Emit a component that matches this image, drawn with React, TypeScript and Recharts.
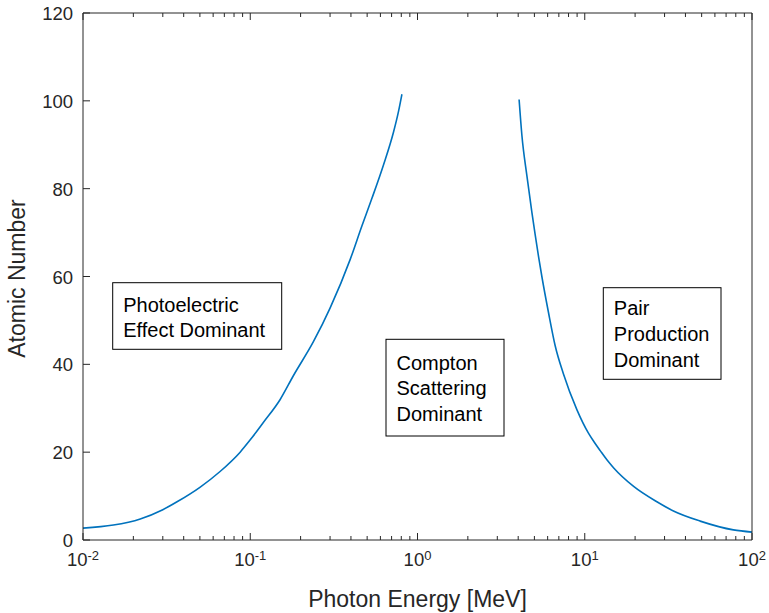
import React from 'react';
import { LineChart, Line, XAxis, YAxis } from 'recharts';

// photoelectric / Compton boundary (energy in MeV, atomic number)
const photoEnergy = [0.01, 0.0152, 0.022, 0.03, 0.0365, 0.05, 0.066, 0.087, 0.1, 0.12, 0.151, 0.181, 0.239, 0.3, 0.396, 0.465, 0.534, 0.626, 0.719, 0.77, 0.807];
const photoZ = [2.7, 3.4, 4.8, 6.9, 8.7, 12.0, 15.6, 20.0, 22.8, 26.8, 32, 37.4, 45.2, 52.8, 63.9, 71.5, 77.8, 85.4, 92.9, 97.6, 101.5];

// Compton / pair production boundary
const pairEnergy = [4.05, 4.21, 4.51, 4.83, 5.05, 5.3, 5.54, 6.07, 6.65, 7.46, 8.97, 10.5, 11.3, 12.4, 13.6, 14.9, 19.6, 27, 33.9, 49, 77.4, 100];
const pairZ = [100.3, 92.1, 82.9, 74.6, 69.6, 64.4, 60.0, 51.8, 44.3, 37.8, 29.7, 24.4, 22.5, 20.3, 18.2, 16.4, 12.2, 8.7, 6.6, 4.3, 2.3, 1.8];

const majorX = [0.01, 0.1, 1, 10, 100];
const minorSteps = [2, 3, 4, 5, 6, 7, 8, 9];
const yTicks = [0, 20, 40, 60, 80, 100, 120];

const xTicks = [
  ...majorX,
  ...majorX.slice(0, -1).flatMap((d) => minorSteps.map((s) => d * s)),
].sort((a, b) => a - b);

const photoData = photoEnergy.map((e, i) => ({ e, z: photoZ[i] }));
const pairData = pairEnergy.map((e, i) => ({ e, z: pairZ[i] }));

const AXIS = '#262626';
const BLUE = '#0072BD';
const FONT = '"Liberation Sans", Arial, Helvetica, sans-serif';

const isMajor = (v: number) => majorX.some((m) => Math.abs(v - m) / m < 1e-9);

const BottomTick = (props: any) => {
  const { x, y, payload } = props;
  const v = payload.value;
  const major = isMajor(v);
  const exp = Math.round(Math.log10(v));
  return (
    <g>
      <line x1={x} x2={x} y1={y} y2={y - (major ? 7 : 4)} stroke={AXIS} />
      {major && (
        <text x={x} y={y + 26} textAnchor="middle" fontSize={18.5} fill={AXIS} fontFamily={FONT}>
          10<tspan dy={-6} fontSize={13}>{exp}</tspan>
        </text>
      )}
    </g>
  );
};

const TopTick = (props: any) => {
  const { x, y, payload } = props;
  const major = isMajor(payload.value);
  return <line x1={x} x2={x} y1={y} y2={y + (major ? 7 : 4)} stroke={AXIS} />;
};

const LeftTick = (props: any) => {
  const { x, y, payload } = props;
  return (
    <g>
      <line x1={x} x2={x + 7} y1={y} y2={y} stroke={AXIS} />
      <text x={x - 10} y={y + 7} textAnchor="end" fontSize={18.5} fill={AXIS} fontFamily={FONT}>
        {payload.value}
      </text>
    </g>
  );
};

const RightTick = (props: any) => {
  const { x, y } = props;
  return <line x1={x} x2={x - 7} y1={y} y2={y} stroke={AXIS} />;
};

const Box = ({ x, y, w, h, lines, baselines }: any) => (
  <g>
    <rect x={x} y={y} width={w} height={h} fill="#fff" stroke="#000" strokeWidth={1} />
    {lines.map((t: string, i: number) => (
      <text key={t} x={x + 10.5} y={baselines[i]} fontSize={20} fill="#000" fontFamily={FONT}>
        {t}
      </text>
    ))}
  </g>
);

export default function App() {
  return (
    <div style={{ position: 'absolute', left: 0, top: 0, width: 769, height: 613, background: '#fff' }}>
      <LineChart width={769} height={613} margin={{ top: 0, right: 0, bottom: 0, left: 0 }}>
        <XAxis
          xAxisId="b"
          dataKey="e"
          type="number"
          scale="log"
          domain={[0.01, 100]}
          allowDataOverflow
          ticks={xTicks}
          interval={0}
          height={73}
          tickSize={0}
          tickMargin={0}
          tickLine={false}
          axisLine={{ stroke: AXIS }}
          tick={<BottomTick />}
        />
        <XAxis
          xAxisId="t"
          orientation="top"
          dataKey="e"
          type="number"
          scale="log"
          domain={[0.01, 100]}
          allowDataOverflow
          ticks={xTicks}
          interval={0}
          height={13}
          tickSize={0}
          tickMargin={0}
          tickLine={false}
          axisLine={{ stroke: AXIS }}
          tick={<TopTick />}
        />
        <YAxis
          yAxisId="l"
          type="number"
          domain={[0, 120]}
          ticks={yTicks}
          interval={0}
          width={83}
          tickSize={0}
          tickMargin={0}
          tickLine={false}
          axisLine={{ stroke: AXIS }}
          tick={<LeftTick />}
        />
        <YAxis
          yAxisId="r"
          orientation="right"
          type="number"
          domain={[0, 120]}
          ticks={yTicks}
          interval={0}
          width={17}
          tickSize={0}
          tickMargin={0}
          tickLine={false}
          axisLine={{ stroke: AXIS }}
          tick={<RightTick />}
        />
        <Line
          xAxisId="b"
          yAxisId="l"
          data={photoData}
          dataKey="z"
          type="monotone"
          stroke={BLUE}
          strokeWidth={1.6}
          dot={false}
          isAnimationActive={false}
        />
        <Line
          xAxisId="b"
          yAxisId="l"
          data={pairData}
          dataKey="z"
          type="monotone"
          stroke={BLUE}
          strokeWidth={1.6}
          dot={false}
          isAnimationActive={false}
        />
      </LineChart>
      <svg
        width={769}
        height={613}
        style={{ position: 'absolute', left: 0, top: 0, pointerEvents: 'none' }}
      >
        <text x={417.5} y={607} textAnchor="middle" fontSize={23} fill={AXIS} fontFamily={FONT}>
          Photon Energy [MeV]
        </text>
        <text
          x={25}
          y={278.5}
          textAnchor="middle"
          fontSize={23}
          fill={AXIS}
          fontFamily={FONT}
          transform="rotate(-90 25 278.5)"
        >
          Atomic Number
        </text>
        <Box x={112.7} y={282.7} w={169} h={66.6} lines={['Photoelectric', 'Effect Dominant']} baselines={[311.5, 337]} />
        <Box x={386} y={339.3} w={118} h={96.7} lines={['Compton', 'Scattering', 'Dominant']} baselines={[369.5, 395, 420.5]} />
        <Box x={603.3} y={287.7} w={117.7} h={91.6} lines={['Pair', 'Production', 'Dominant']} baselines={[315, 341, 367]} />
      </svg>
    </div>
  );
}
